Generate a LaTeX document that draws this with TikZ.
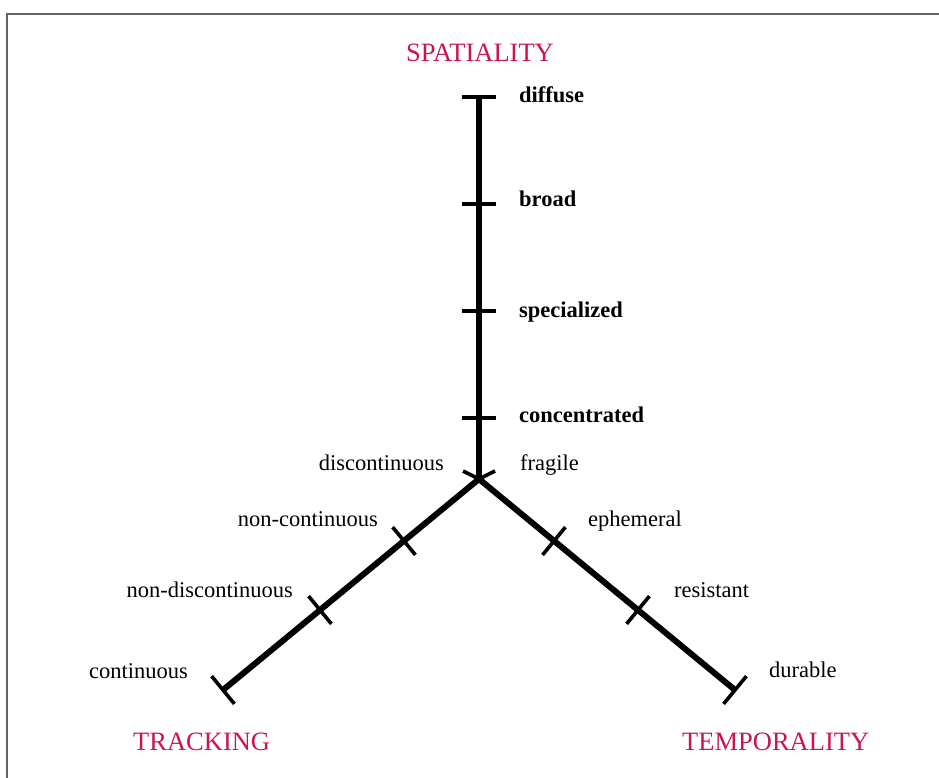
\documentclass[tikz,border=0pt]{standalone}
\usepackage{fontspec}
\setmainfont{Liberation Serif}
\usetikzlibrary{calc}
\definecolor{axred}{RGB}{200,22,78}
\definecolor{framegray}{RGB}{100,100,100}
\tikzset{
  axisline/.style={line width=6pt, black},
  tickline/.style={line width=3.6pt, black},
  lab/.style={inner sep=0pt, font=\fontsize{22.5}{27}\selectfont},
  blab/.style={lab, font=\fontsize{22.5}{27}\selectfont\bfseries},
  title/.style={inner sep=0pt, text=axred, font=\fontsize{26.5}{32}\selectfont},
}
\begin{document}
\begin{tikzpicture}[x=1pt,y=-1pt]
\useasboundingbox (0,0) rectangle (939,778);
% frame
\draw[framegray, line width=2.5pt] (7,778) -- (7,14) -- (939,14);

% axis points
\coordinate (c) at (479,479);
\coordinate (top) at (479,97);
\coordinate (v2) at (479,204);
\coordinate (v3) at (479,311);
\coordinate (v4) at (479,418);
\coordinate (lend) at (223,690);
\coordinate (rend) at (735,690);
\coordinate (l1) at (404,541);
\coordinate (l2) at (320,610);
\coordinate (r1) at (554,541);
\coordinate (r2) at (638,610);

% axes
\draw[axisline] (top) -- (c);
\draw[axisline] (c) -- (lend);
\draw[axisline] (c) -- (rend);

% vertical ticks
\foreach \p in {top,v2,v3,v4}{
  \draw[tickline] ($(\p)+(-17,0)$) -- ($(\p)+(17,0)$);
}
% left branch ticks (perpendicular)
\foreach \p in {l1,l2,lend}{
  \draw[tickline] ($(\p)+(-11.4,-13.9)$) -- ($(\p)+(11.4,13.9)$);
}
% right branch ticks
\foreach \p in {r1,r2,rend}{
  \draw[tickline] ($(\p)+(11.4,-13.9)$) -- ($(\p)+(-11.4,13.9)$);
}
% centre marks
\coordinate (cl) at (463,471);
\coordinate (cr) at (495,471);
\draw[tickline] (cl) -- (c) -- (cr);

% titles
\node[title, anchor=base] (spat) at (480,62) {SPATIALITY};
\node[title, anchor=base west] (track) at (133,750) {TRACKING};
\node[title, anchor=base west] (temp) at (682,750) {TEMPORALITY};

% spatiality labels
\node[blab, anchor=base west] (ldiffuse) at (519,103) {diffuse};
\node[blab, anchor=base west] (lbroad) at (519,207) {broad};
\node[blab, anchor=base west] (lspec) at (519,317) {specialized};
\node[blab, anchor=base west] (lconc) at (519,422) {concentrated};

% tracking labels
\node[lab, anchor=base east] (ldisc) at (444,470) {discontinuous};
\node[lab, anchor=base east] (lnoncont) at (378,526) {non-continuous};
\node[lab, anchor=base east] (lnondisc) at (293,597) {non-discontinuous};
\node[lab, anchor=base east] (lcont) at (188,678) {continuous};

% temporality labels
\node[lab, anchor=base west] (lfrag) at (520,470) {fragile};
\node[lab, anchor=base west] (leph) at (588,526) {ephemeral};
\node[lab, anchor=base west] (lres) at (674,597) {resistant};
\node[lab, anchor=base west] (ldur) at (769,677) {durable};
\end{tikzpicture}
\end{document}
